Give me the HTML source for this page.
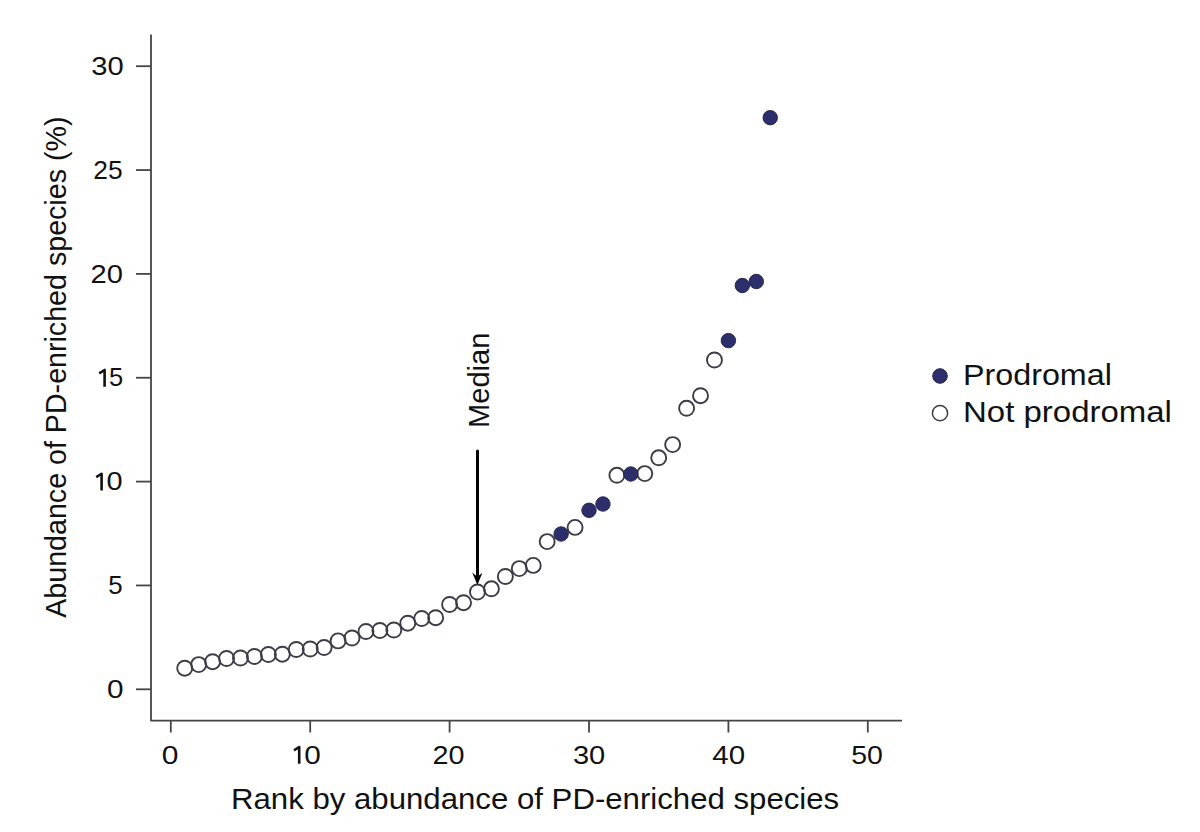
<!DOCTYPE html>
<html><head><meta charset="utf-8"><style>
html,body{margin:0;padding:0;background:#fff;}
body{width:1200px;height:832px;overflow:hidden;}
svg{display:block;font-family:"Liberation Sans",sans-serif;}
</style></head><body>
<svg width="1200" height="832" viewBox="0 0 1200 832">
<rect width="1200" height="832" fill="#fff"/>
<g stroke="#454545" stroke-width="1.8" fill="none">
<path d="M151 34.5 V720.7 H902"/>
<line x1="136" y1="689.30" x2="151" y2="689.30"/><line x1="136" y1="585.45" x2="151" y2="585.45"/><line x1="136" y1="481.60" x2="151" y2="481.60"/><line x1="136" y1="377.75" x2="151" y2="377.75"/><line x1="136" y1="273.90" x2="151" y2="273.90"/><line x1="136" y1="170.05" x2="151" y2="170.05"/><line x1="136" y1="66.20" x2="151" y2="66.20"/><line x1="170.80" y1="720.7" x2="170.80" y2="732.5"/><line x1="310.20" y1="720.7" x2="310.20" y2="732.5"/><line x1="449.60" y1="720.7" x2="449.60" y2="732.5"/><line x1="589.00" y1="720.7" x2="589.00" y2="732.5"/><line x1="728.40" y1="720.7" x2="728.40" y2="732.5"/><line x1="867.80" y1="720.7" x2="867.80" y2="732.5"/>
</g>
<g fill="none" stroke="#3c3c48" stroke-width="1.9">
<circle cx="184.74" cy="668.20" r="7.5"/><circle cx="198.68" cy="664.60" r="7.5"/><circle cx="212.62" cy="661.70" r="7.5"/><circle cx="226.56" cy="658.50" r="7.5"/><circle cx="240.50" cy="658.00" r="7.5"/><circle cx="254.44" cy="656.50" r="7.5"/><circle cx="268.38" cy="654.50" r="7.5"/><circle cx="282.32" cy="654.20" r="7.5"/><circle cx="296.26" cy="649.50" r="7.5"/><circle cx="310.20" cy="649.00" r="7.5"/><circle cx="324.14" cy="647.50" r="7.5"/><circle cx="338.08" cy="640.90" r="7.5"/><circle cx="352.02" cy="638.00" r="7.5"/><circle cx="365.96" cy="631.50" r="7.5"/><circle cx="379.90" cy="630.50" r="7.5"/><circle cx="393.84" cy="630.00" r="7.5"/><circle cx="407.78" cy="623.20" r="7.5"/><circle cx="421.72" cy="618.50" r="7.5"/><circle cx="435.66" cy="617.70" r="7.5"/><circle cx="449.60" cy="604.50" r="7.5"/><circle cx="463.54" cy="602.70" r="7.5"/><circle cx="477.48" cy="592.00" r="7.5"/><circle cx="491.42" cy="588.80" r="7.5"/><circle cx="505.36" cy="576.50" r="7.5"/><circle cx="519.30" cy="568.60" r="7.5"/><circle cx="533.24" cy="565.40" r="7.5"/><circle cx="547.18" cy="541.60" r="7.5"/><circle cx="575.06" cy="527.40" r="7.5"/><circle cx="616.88" cy="475.30" r="7.5"/><circle cx="644.76" cy="473.60" r="7.5"/><circle cx="658.70" cy="457.80" r="7.5"/><circle cx="672.64" cy="444.60" r="7.5"/><circle cx="686.58" cy="408.30" r="7.5"/><circle cx="700.52" cy="395.70" r="7.5"/><circle cx="714.46" cy="360.00" r="7.5"/>
</g>
<g fill="#2d2f6c" stroke="#24254c" stroke-width="1">
<circle cx="561.12" cy="534.00" r="7.2"/><circle cx="589.00" cy="510.30" r="7.2"/><circle cx="602.94" cy="504.00" r="7.2"/><circle cx="630.82" cy="474.00" r="7.2"/><circle cx="728.40" cy="340.60" r="7.2"/><circle cx="742.34" cy="285.50" r="7.2"/><circle cx="756.28" cy="281.50" r="7.2"/><circle cx="770.22" cy="117.70" r="7.2"/>
</g>
<g stroke="#000" stroke-width="3" fill="none"><path d="M477.5 451 V578" stroke-linecap="round"/></g>
<path d="M477.4 585 L472.2 572.4 L477.4 576.8 L482.4 572.8 Z" fill="#000"/>
<circle cx="940" cy="376" r="7.3" fill="#2d2f6c" stroke="#24254c" stroke-width="1"/>
<circle cx="940" cy="413.2" r="7.6" fill="none" stroke="#3c3c48" stroke-width="1.5"/>
<g fill="#111">
<text transform="matrix(1.1440,0,0,0.9973,107.06,697.95)" font-size="26">0</text><text transform="matrix(0.9959,0,0,1.0111,108.20,594.10)" font-size="26">5</text><text transform="matrix(1.1120,0,0,0.9973,106.39,490.25)" font-size="26">0</text><text transform="matrix(0.9796,0,0,1.0111,108.92,386.40)" font-size="26">5</text><text transform="matrix(1.1208,0,0,0.9973,90.50,282.55)" font-size="26">20</text><text transform="matrix(1.0151,0,0,0.9973,93.23,178.70)" font-size="26">25</text><text transform="matrix(1.1215,0,0,0.9973,91.28,74.85)" font-size="26">30</text><text transform="matrix(1.1520,0,0,0.9973,161.65,763.50)" font-size="26">0</text><text transform="matrix(1.1440,0,0,0.9973,304.16,763.50)" font-size="26">0</text><text transform="matrix(1.1057,0,0,0.9973,432.42,763.50)" font-size="26">20</text><text transform="matrix(1.1196,0,0,0.9973,572.93,763.50)" font-size="26">30</text><text transform="matrix(1.1358,0,0,0.9973,712.28,763.50)" font-size="26">40</text><text transform="matrix(1.0991,0,0,0.9973,851.20,763.50)" font-size="26">50</text><text transform="matrix(1.0397,0,0,0.9977,231.00,809.30)" font-size="30">Rank by abundance of PD-enriched species</text><text transform="translate(65.60,617.80) rotate(-90) scale(0.9545,0.9977)" font-size="30">Abundance of PD-enriched species (%)</text><text transform="translate(489.20,427.92) rotate(-90) scale(0.9691,0.9931)" font-size="30">Median</text><text transform="matrix(1.1133,0,0,1.0095,963.02,384.60)" font-size="29">Prodromal</text><text transform="matrix(1.1375,0,0,1.0143,962.96,421.70)" font-size="29">Not prodromal</text>
</g>
<g fill="none" stroke="#111" stroke-width="2.6" stroke-linejoin="round"><path d="M96.20 477.20 Q99.40 475.30 101.60 473.80 V490.50"/><path d="M99.20 373.35 Q102.40 371.45 104.60 369.95 V386.65"/><path d="M294.00 750.45 Q297.00 748.55 299.20 747.05 V763.75"/></g>
</svg>
</body></html>
